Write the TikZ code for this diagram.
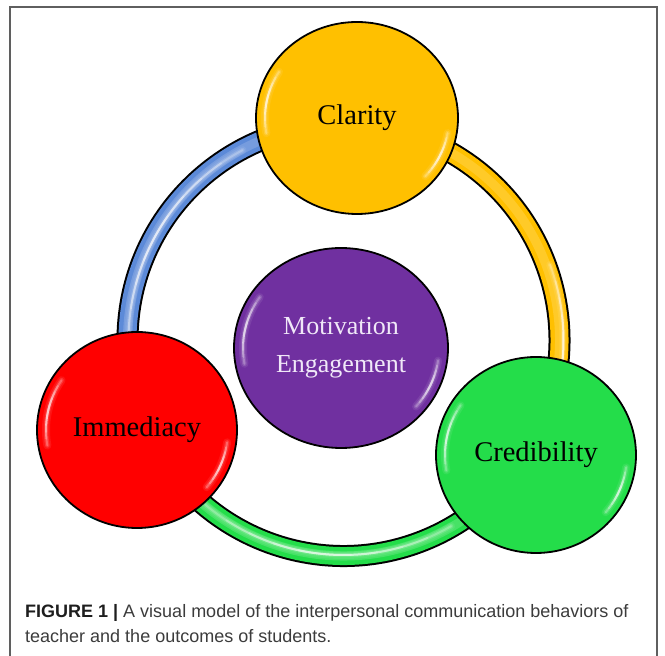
\documentclass[tikz,border=0pt]{standalone}
\usepackage{fontspec}
\setmainfont{Liberation Serif}
\newfontfamily\capfont{Liberation Sans}
\usetikzlibrary{shapes.geometric}

\definecolor{clarityc}{RGB}{255,192,0}
\definecolor{immc}{RGB}{255,0,0}
\definecolor{credc}{RGB}{36,221,74}
\definecolor{motc}{RGB}{112,48,160}
\definecolor{blueband}{RGB}{92,138,216}
\definecolor{framec}{RGB}{95,95,95}
\definecolor{captext}{RGB}{60,60,60}
\definecolor{capbold}{RGB}{30,30,30}
\definecolor{mottext}{RGB}{240,232,248}

% soft white reflection along an elliptical arc, fading towards both ends
\newcommand\glint[5]{%
  \pgfmathsetmacro\gstep{(#3-#2)/10}%
  \foreach \k in {0,1,2,3,4}{%
    \pgfmathsetmacro\ga{#2+\k*\gstep}%
    \pgfmathsetmacro\gb{#3-\k*\gstep}%
    \draw[white, line width=2pt, opacity=0.24, line cap=round]
      (#1) ++(\ga:#4pt and #5pt) arc[start angle=\ga, end angle=\gb, x radius=#4pt, y radius=#5pt];
  }%
  \draw[white, line width=4.5pt, opacity=0.14, line cap=round]
    (#1) ++(#2:#4pt and #5pt) arc[start angle=#2, end angle=#3, x radius=#4pt, y radius=#5pt];
  \draw[white, line width=8pt, opacity=0.08, line cap=round]
    (#1) ++(#2:#4pt and #5pt) arc[start angle=#2, end angle=#3, x radius=#4pt, y radius=#5pt];
}

% one coloured segment of the connecting ring
\newcommand\tube[3]{%
  \draw[black, line width=22pt] (ring) ++(#2:216pt) arc[start angle=#2, end angle=#3, radius=216pt];
  \draw[#1, line width=18pt] (ring) ++(#2:216pt) arc[start angle=#2, end angle=#3, radius=216pt];
  \draw[#1!80!white, line width=9pt, opacity=0.8] (ring) ++(#2:216pt) arc[start angle=#2, end angle=#3, radius=216pt];
}

\tikzset{
  ball/.style={ellipse, draw=black, line width=1.8pt, fill=#1, inner sep=0pt},
  balltext/.style={font=\fontsize{28.5}{34}\selectfont, text=black},
  captionline/.style={anchor=base west, inner sep=0pt, text=captext,
    font=\capfont\fontsize{18}{22}\selectfont},
}

\begin{document}
\begin{tikzpicture}[x=1pt, y=1pt]
\useasboundingbox (0,0) rectangle (665,656);
\fill[white] (0,0) rectangle (665,656);

% figure frame, open at the bottom
\draw[framec, line width=1.2pt] (10,0) -- (10,649) -- (657,649) -- (657,0);

% ring behind the four discs
\coordinate (ring) at (343.5,316);
\tube{blueband}{86.5}{203.6}
\tube{clarityc}{-30.9}{86.5}
\tube{credc}{203.6}{329.1}

% highlights on the ring
\glint{ring}{118}{185}{215}{215}
\glint{ring}{-25}{20}{220}{220}
\glint{ring}{230}{300}{215}{215}

% discs
\node[ball=clarityc, minimum width=202pt, minimum height=192pt, balltext] (clarity) at (357,538) {Clarity};
\node[ball=immc, minimum width=200pt, minimum height=196pt, balltext] (immediacy) at (137,226) {Immediacy};
\node[ball=credc, minimum width=200pt, minimum height=196pt, balltext] (credibility) at (536,201) {Credibility};
\node[ball=motc, minimum width=214pt, minimum height=200pt, align=center,
      font=\fontsize{26}{38}\selectfont, text=mottext] (motivation) at (341,308) {Motivation\\Engagement};

% reflections on the discs
\glint{clarity}{148}{190}{92}{87}
\glint{clarity}{-42}{-10}{92}{87}
\glint{immediacy}{146}{190}{91}{89}
\glint{immediacy}{-40}{-8}{91}{89}
\glint{credibility}{146}{190}{91}{89}
\glint{credibility}{-40}{-8}{91}{89}
\glint{motivation}{146}{190}{98}{91}
\glint{motivation}{-40}{-8}{98}{91}

% caption
\node[captionline] (cap1) at (25,38) {\textcolor{capbold}{\textbf{FIGURE 1 |}} A visual model of the interpersonal communication behaviors of};
\node[captionline] (cap2) at (25,13) {teacher and the outcomes of students.};
\end{tikzpicture}
\end{document}
